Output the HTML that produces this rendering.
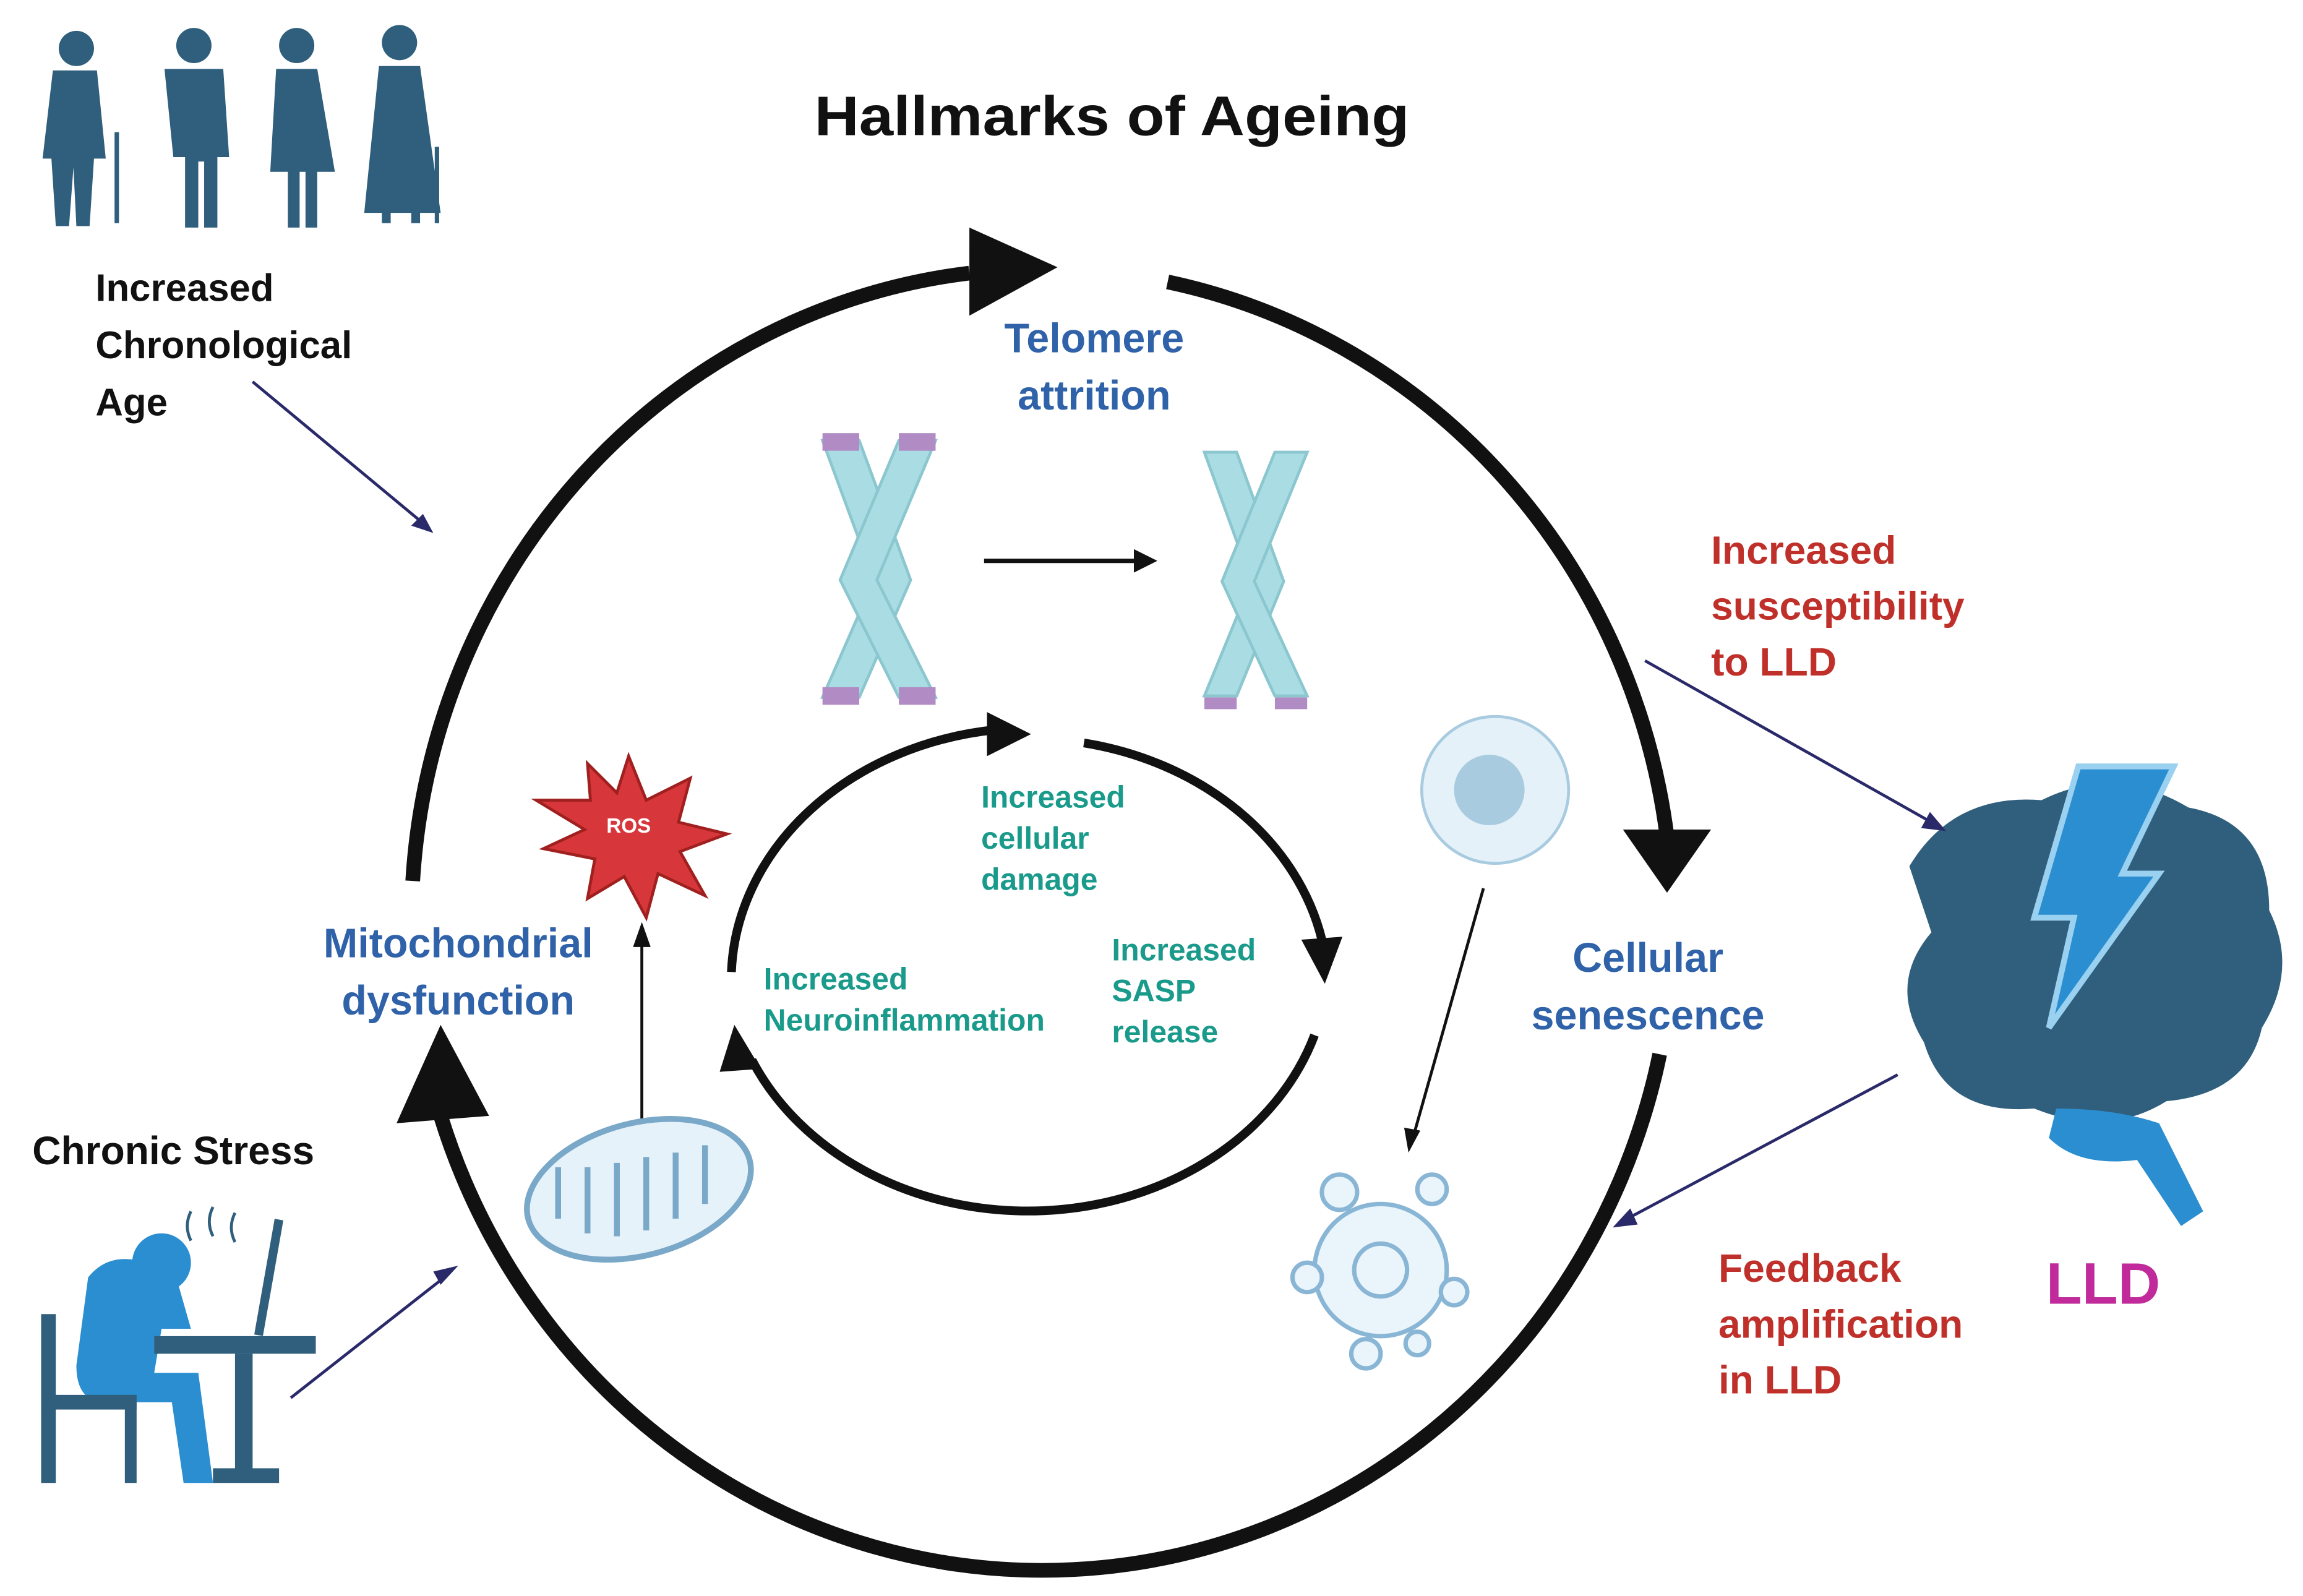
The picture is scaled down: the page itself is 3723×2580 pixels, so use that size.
<!DOCTYPE html>
<html><head><meta charset="utf-8"><style>
html,body{margin:0;padding:0;background:#fff;}
svg{display:block;}
text{font-family:"Liberation Sans",sans-serif;font-weight:bold;}
</style></head><body>
<svg width="3723" height="2580" viewBox="0 0 1568 1087" preserveAspectRatio="none" xmlns="http://www.w3.org/2000/svg">
<rect width="1568" height="1087" fill="#fff"/>
<!-- people -->
<g fill="#2f5f7c">
 <circle cx="52" cy="33" r="12"/><path d="M36 48h30l6 60h-8l-3 46h-9l-2-40-3 40h-9l-3-46h-6z"/><rect x="78" y="90" width="3" height="62"/>
 <circle cx="132" cy="31" r="12"/><path d="M112 47h40l4 60h-8v48h-9v-45h-4v45h-9v-48h-8z"/>
 <circle cx="202" cy="31" r="12"/><path d="M188 47h28l12 70h-12v38h-8v-38h-4v38h-8v-38h-12z"/>
 <circle cx="272" cy="29" r="12"/><path d="M258 45h28l14 100h-52z"/><rect x="260" y="140" width="6" height="12"/><rect x="280" y="140" width="6" height="12"/><rect x="296" y="100" width="3" height="52"/>
</g>
<text x="757" y="92" font-size="38" text-anchor="middle" fill="#111" textLength="405" lengthAdjust="spacingAndGlyphs">Hallmarks of Ageing</text>
<text font-size="26" fill="#111"><tspan x="65" y="205">Increased</tspan><tspan x="65" y="244">Chronological</tspan><tspan x="65" y="283">Age</tspan></text>
<line x1="172" y1="260" x2="290" y2="358" stroke="#2a2a6a" stroke-width="2"/><polygon points="295,363 280,358 288,350" fill="#2a2a6a"/>
<!-- big circle -->
<g fill="none" stroke="#111" stroke-width="10">
 <path d="M 660 186 A 430 445 0 0 0 281 600"/>
 <path d="M 795 192 A 430 445 0 0 1 1135 570"/>
 <path d="M 1130 718 A 430 445 0 0 1 300 760"/>
</g>
<polygon points="720,182 660,155 660,215" fill="#111"/>
<polygon points="1135,608 1105,565 1165,565" fill="#111"/>
<polygon points="300,698 270,765 333,760" fill="#111"/>
<!-- inner circle -->
<g fill="none" stroke="#111" stroke-width="6">
 <path d="M 498 662 A 205 172 0 0 1 678 497"/>
 <path d="M 738 506 A 205 172 0 0 1 900 640"/>
 <path d="M 895 705 A 205 172 0 0 1 512 722"/>
</g>
<polygon points="702,500 672,485 672,515" fill="#111"/>
<polygon points="902,670 886,640 914,638" fill="#111"/>
<polygon points="500,698 490,730 518,728" fill="#111"/>
<!-- texts -->
<text font-size="28" fill="#2f62a8" text-anchor="middle"><tspan x="745" y="240">Telomere</tspan><tspan x="745" y="279">attrition</tspan></text>
<text font-size="28" fill="#2f62a8" text-anchor="middle"><tspan x="312" y="652">Mitochondrial</tspan><tspan x="312" y="691">dysfunction</tspan></text>
<text font-size="28" fill="#2f62a8" text-anchor="middle"><tspan x="1122" y="662">Cellular</tspan><tspan x="1122" y="701">senescence</tspan></text>
<text font-size="21" fill="#1a9a8a"><tspan x="668" y="550">Increased</tspan><tspan x="668" y="578">cellular</tspan><tspan x="668" y="606">damage</tspan></text>
<text font-size="21" fill="#1a9a8a"><tspan x="757" y="654">Increased</tspan><tspan x="757" y="682">SASP</tspan><tspan x="757" y="710">release</tspan></text>
<text font-size="21" fill="#1a9a8a"><tspan x="520" y="674">Increased</tspan><tspan x="520" y="702">Neuroinflammation</tspan></text>
<text font-size="27" fill="#c0302a"><tspan x="1165" y="384">Increased</tspan><tspan x="1165" y="422">susceptibility</tspan><tspan x="1165" y="460">to LLD</tspan></text>
<text font-size="27" fill="#c0302a"><tspan x="1170" y="873">Feedback</tspan><tspan x="1170" y="911">amplification</tspan><tspan x="1170" y="949">in LLD</tspan></text>
<text x="1432" y="888" font-size="40" fill="#c02a9a" text-anchor="middle">LLD</text>
<text x="22" y="793" font-size="27" fill="#111">Chronic Stress</text>
<!-- chromosomes (X shape) -->
<g fill="#a9dde3" stroke="#8cc7cf" stroke-width="2">
 <path d="M560 300h25l35 95-35 80h-25l35-80z"/><path d="M612 300h25l-40 95 40 80h-25l-40-80z"/>
 <path d="M820 308h22l32 88-32 78h-22l32-78z"/><path d="M868 308h22l-36 88 36 78h-22l-36-78z"/>
</g>
<g fill="#b08bc4"><rect x="560" y="295" width="25" height="12"/><rect x="612" y="295" width="25" height="12"/><rect x="560" y="468" width="25" height="12"/><rect x="612" y="468" width="25" height="12"/><rect x="820" y="475" width="22" height="8"/><rect x="868" y="475" width="22" height="8"/></g>
<line x1="670" y1="382" x2="775" y2="382" stroke="#111" stroke-width="3"/><polygon points="788,382 772,374 772,390" fill="#111"/>
<!-- ROS -->
<polygon points="428,515 440,545 470,530 462,560 495,568 463,580 480,610 448,595 440,625 425,597 400,612 405,585 370,578 398,565 365,545 402,545 400,520 420,540" fill="#d7373a" stroke="#a02020" stroke-width="2"/>
<text x="428" y="567" font-size="14" fill="#fff" text-anchor="middle">ROS</text>
<line x1="437" y1="770" x2="437" y2="640" stroke="#111" stroke-width="2"/><polygon points="437,628 431,645 443,645" fill="#111"/>
<!-- mitochondria -->
<ellipse cx="435" cy="810" rx="78" ry="45" fill="#e6f2fa" stroke="#7aa8c8" stroke-width="4" transform="rotate(-15 435 810)"/>
<path d="M380 830 v-35 M400 840 v-45 M420 842 v-50 M440 838 v-50 M460 830 v-45 M480 820 v-40" stroke="#7aa8c8" stroke-width="4"/>
<!-- cells -->
<circle cx="1018" cy="538" r="50" fill="#e4f1f8" stroke="#a8cbe0" stroke-width="2"/><circle cx="1014" cy="538" r="24" fill="#a8cbe0"/>
<line x1="1010" y1="605" x2="962" y2="775" stroke="#111" stroke-width="2"/><polygon points="959,785 956,768 967,770" fill="#111"/>
<g fill="#eaf4fb" stroke="#8ab6d6" stroke-width="3"><circle cx="940" cy="865" r="45"/><circle cx="912" cy="812" r="12"/><circle cx="975" cy="810" r="10"/><circle cx="890" cy="870" r="10"/><circle cx="990" cy="880" r="9"/><circle cx="930" cy="922" r="10"/><circle cx="965" cy="915" r="8"/></g>
<circle cx="940" cy="865" r="18" fill="none" stroke="#8ab6d6" stroke-width="3"/>
<!-- brain -->
<path d="M1300 590 q30-50 90-45 q50-25 100 5 q55 10 55 70 q20 40-5 80 q-10 45-65 50 q-40 25-90 5 q-60 5-75-45 q-25-40 5-75 z" fill="#2f5f7c"/>
<path d="M1400 755 q40 0 70 10 l30 60 -15 10 -30-45 q-40 5-60-15 z" fill="#2a8ed0"/>
<polygon points="1415,522 1480,522 1445,595 1470,595 1395,700 1412,625 1385,625" fill="#2a8ed0" stroke="#9ad0f0" stroke-width="4"/>
<line x1="1120" y1="450" x2="1315" y2="560" stroke="#2a2a6a" stroke-width="2"/><polygon points="1325,566 1308,564 1314,553" fill="#2a2a6a"/>
<line x1="1292" y1="732" x2="1108" y2="830" stroke="#2a2a6a" stroke-width="2"/><polygon points="1098,836 1110,823 1115,834" fill="#2a2a6a"/>
<!-- stressed person -->
<g fill="#2a8ed0"><circle cx="110" cy="860" r="20"/><path d="M60 870 q20-25 60 0 l10 35 h-20 l-5 30 h30 l10 75 h-20 l-8-55 h-45 q-20 0-20-25 z"/></g>
<g fill="#2f5f7c"><rect x="28" y="895" width="10" height="115"/><rect x="28" y="950" width="65" height="10"/><rect x="85" y="955" width="8" height="55"/><rect x="105" y="910" width="110" height="12"/><rect x="160" y="922" width="12" height="85"/><rect x="145" y="1000" width="45" height="10"/><rect x="180" y="830" width="6" height="80" transform="rotate(10 183 870)"/></g>
<path d="M130 825 q-5 10 0 20 M145 822 q-5 10 0 20 M160 826 q-5 10 0 20" stroke="#2f5f7c" stroke-width="2" fill="none"/>
<line x1="198" y1="952" x2="305" y2="868" stroke="#2a2a6a" stroke-width="2"/><polygon points="312,862 300,875 295,866" fill="#2a2a6a"/>
</svg>
</body></html>
